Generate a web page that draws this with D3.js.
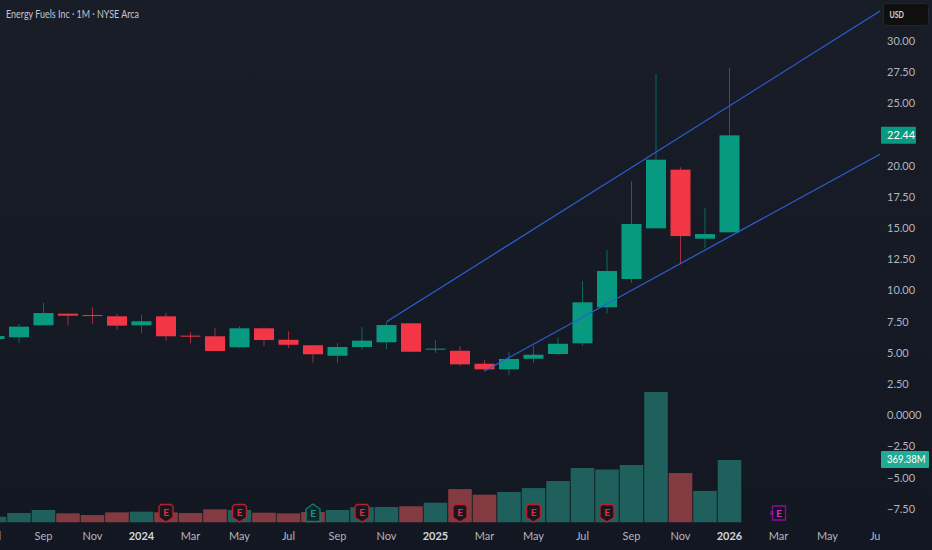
<!DOCTYPE html>
<html><head><meta charset="utf-8">
<script src="https://cdn.jsdelivr.net/npm/d3@7"></script>
<style>html,body{margin:0;padding:0;background:#131722}svg{display:block}text{font-family:Lato,Roboto,sans-serif}</style>
</head><body><svg id="c" width="932" height="550"></svg>
<script>
const title = "Energy Fuels Inc · 1M · NYSE Arca";
const months = ["2023-07","2023-08","2023-09","2023-10","2023-11","2023-12","2024-01","2024-02","2024-03","2024-04","2024-05","2024-06","2024-07","2024-08","2024-09","2024-10","2024-11","2024-12","2025-01","2025-02","2025-03","2025-04","2025-05","2025-06","2025-07","2025-08","2025-09","2025-10","2025-11","2025-12","2026-01"];
const open  = [6.12,6.26,7.22,8.15,8.04,7.94,7.22,7.94,6.39,6.34,5.46,6.98,6.06,5.62,4.78,5.48,5.86,7.38,5.29,5.18,4.14,3.69,4.54,4.92,5.78,8.66,10.93,14.99,19.69,14.16,14.67];
const high  = [6.50,7.32,9.03,8.15,8.66,8.12,8.04,8.20,6.68,6.98,7.14,7.06,6.74,5.64,5.80,7.08,7.46,7.38,6.02,5.56,4.44,5.10,5.58,6.23,10.77,13.25,18.78,27.33,19.88,16.62,27.86];
const low   = [6.00,5.82,7.22,7.19,7.35,6.87,6.60,5.99,5.78,5.16,5.40,5.54,5.40,4.22,4.22,5.26,5.32,5.05,5.00,3.98,3.56,3.21,4.22,4.82,5.58,8.15,10.61,14.99,12.11,13.39,14.67];
const close = [6.36,7.11,8.20,7.99,7.99,7.19,7.54,6.34,6.33,5.16,6.98,6.04,5.66,4.90,5.48,5.99,7.24,5.10,5.35,4.09,3.69,4.52,4.86,5.74,9.06,11.57,15.34,20.49,14.37,14.53,22.44];
const volume = [33,55,73,53,43,59,63,59,55,77,73,57,53,61,73,89,91,95,116,197,164,180,203,245,322,313,340,773,292,186,369.38];
const timeTicks = [[0,"Jul"],[2,"Sep"],[4,"Nov"],[6,"2024"],[8,"Mar"],[10,"May"],[12,"Jul"],[14,"Sep"],[16,"Nov"],[18,"2025"],[20,"Mar"],[22,"May"],[24,"Jul"],[26,"Sep"],[28,"Nov"],[30,"2026"],[32,"Mar"],[34,"May"],[36,"Jul"]];
const priceTicks = [30,27.5,25,20,17.5,15,12.5,10,7.5,5,2.5,0,-2.5,-5,-7.5];
const channelUpper = [[16,7.5],[36.16,32.42]];
const channelLower = [[20,3.56],[36.16,20.95]];
const earnings = [[7,"past"],[10,"past"],[13,"beat"],[15,"past"],[19,"past"],[22,"past"],[25,"past"],[32,"next"]];
const lastPrice = "22.44", lastVolume = "369.38M", currency = "USD";

const UP="#089981", DOWN="#f23645";
const svg=d3.select("#c");
const defs=svg.append("defs");
const g=defs.append("linearGradient").attr("id","bg").attr("x1",0).attr("x2",0).attr("y1",0).attr("y2",1);
g.append("stop").attr("offset",0).attr("stop-color","#191d28");
g.append("stop").attr("offset",1).attr("stop-color","#131722");
defs.append("clipPath").attr("id","plot").append("rect").attr("x",0).attr("y",0).attr("width",880.5).attr("height",550);
svg.append("rect").attr("width",932).attr("height",550).attr("fill","url(#bg)");

const x=d3.scaleLinear().domain([0,36]).range([-5.5,876.5]);
const y=d3.scaleLinear().domain([30,-7.5]).range([41,509]);
const yv=d3.scaleLinear().domain([0,1000]).range([522.3,522.3-1000/5.93]);
const bw=20, vw=23.6;
const rows=months.map((m,i)=>({i,m,o:open[i],h:high[i],l:low[i],c:close[i],v:volume[i],up:close[i]>=open[i]}));

const plot=svg.append("g").attr("clip-path","url(#plot)");
plot.append("g").selectAll("rect").data(rows).join("rect")
 .attr("x",d=>x(d.i)-vw/2).attr("width",vw)
 .attr("y",d=>yv(d.v)).attr("height",d=>yv(0)-yv(d.v))
 .attr("fill",d=>d.up?"#1f5f5c":"#843a41");
plot.append("g").selectAll("line").data(rows).join("line")
 .attr("x1",d=>x(d.i)).attr("x2",d=>x(d.i)).attr("y1",d=>y(d.h)).attr("y2",d=>y(d.l))
 .attr("stroke",d=>d.up?"#0b6a5c":"#a82c3a").attr("stroke-width",1);
plot.append("g").selectAll("rect").data(rows).join("rect")
 .attr("x",d=>x(d.i)-bw/2).attr("width",bw)
 .attr("y",d=>y(Math.max(d.o,d.c)))
 .attr("height",d=>Math.max(1,Math.abs(y(d.o)-y(d.c))))
 .attr("fill",d=>d.up?UP:DOWN);
const ln=d3.line().x(d=>x(d[0])).y(d=>y(d[1]));
[channelUpper,channelLower].forEach(c=>plot.append("path").attr("d",ln(c)).attr("fill","none").attr("stroke","#2c5fd6").attr("stroke-width",1.2));
const shield="M-5,-8.5 H5 L7,-6.5 V4.5 L0,9 L-7,4.5 V-6.5 Z";
const house="M0,-9 L7,-4 V8.5 H-7 V-4 Z";
const em=svg.append("g").selectAll("g").data(earnings).join("g").attr("transform",d=>`translate(${x(d[0])},513)`);
em.filter(d=>d[1]==="past").append("path").attr("d",shield).attr("fill","#1a1620").attr("stroke","#b5212f").attr("stroke-width",1.4);
em.filter(d=>d[1]==="beat").append("path").attr("d",house).attr("fill","#12252a").attr("stroke","#0c7f70").attr("stroke-width",1.4);
em.filter(d=>d[1]==="next").append("path").attr("d","M-6,-7 H7 V7 H-6 Z").attr("fill","#16121f").attr("stroke","#8a0f8f").attr("stroke-width",1.3);
em.filter(d=>d[1]==="next").append("path").attr("d","M-8,-2 H-5 V2 H-8 Z").attr("fill","#8a0f8f");
em.append("text").text("E").attr("text-anchor","middle").attr("y",d=>d[1]==="past"?3:4).attr("x",d=>d[1]==="next"?0.5:0)
 .attr("font-size",10).attr("font-weight",700)
 .attr("fill",d=>d[1]==="past"?"#e0303f":d[1]==="beat"?"#0f9f8b":"#d42fd8");
const tg=svg.append("g").attr("clip-path","url(#plot)");
tg.selectAll("text").data(timeTicks).join("text").text(d=>d[1])
 .attr("x",d=>x(d[0])).attr("y",540).attr("text-anchor","middle").attr("font-size",11)
 .attr("font-weight",d=>/^\d/.test(d[1])?700:400)
 .attr("fill",d=>/^\d/.test(d[1])?"#d1d4dc":"#b2b5be");
const fmt=v=>v===0?"0.0000":(v<0?"−":"")+Math.abs(v).toFixed(2);
svg.append("g").selectAll("text").data(priceTicks).join("text").text(fmt)
 .attr("x",887).attr("y",d=>y(d)+3.8).attr("font-size",11).attr("fill","#b2b5be");
svg.append("text").text(title).attr("x",6).attr("y",17.5).attr("font-size",11).attr("fill","#c3c6ce")
 .attr("textLength",133).attr("lengthAdjust","spacingAndGlyphs");
svg.append("rect").attr("x",883.5).attr("y",3.5).attr("width",45).attr("height",22).attr("rx",3).attr("fill","#0f0f10").attr("stroke","#23262f");
svg.append("text").text(currency).attr("x",889.5).attr("y",18).attr("font-size",10).attr("font-weight",700).attr("fill","#d1d4dc")
 .attr("textLength",14.5).attr("lengthAdjust","spacingAndGlyphs");
svg.append("rect").attr("x",881).attr("y",y(22.44)-8.5).attr("width",35).attr("height",17).attr("rx",1).attr("fill",UP);
svg.append("text").text(lastPrice).attr("x",887).attr("y",y(22.44)+3.8).attr("font-size",11).attr("fill","#fff");
svg.append("rect").attr("x",881).attr("y",yv(369.38)-9).attr("width",48).attr("height",17).attr("rx",1).attr("fill","#22ab94");
svg.append("text").text(lastVolume).attr("x",887).attr("y",yv(369.38)+3.3).attr("font-size",11).attr("fill","#fff")
 .attr("textLength",38.5).attr("lengthAdjust","spacingAndGlyphs");
</script></body></html>
